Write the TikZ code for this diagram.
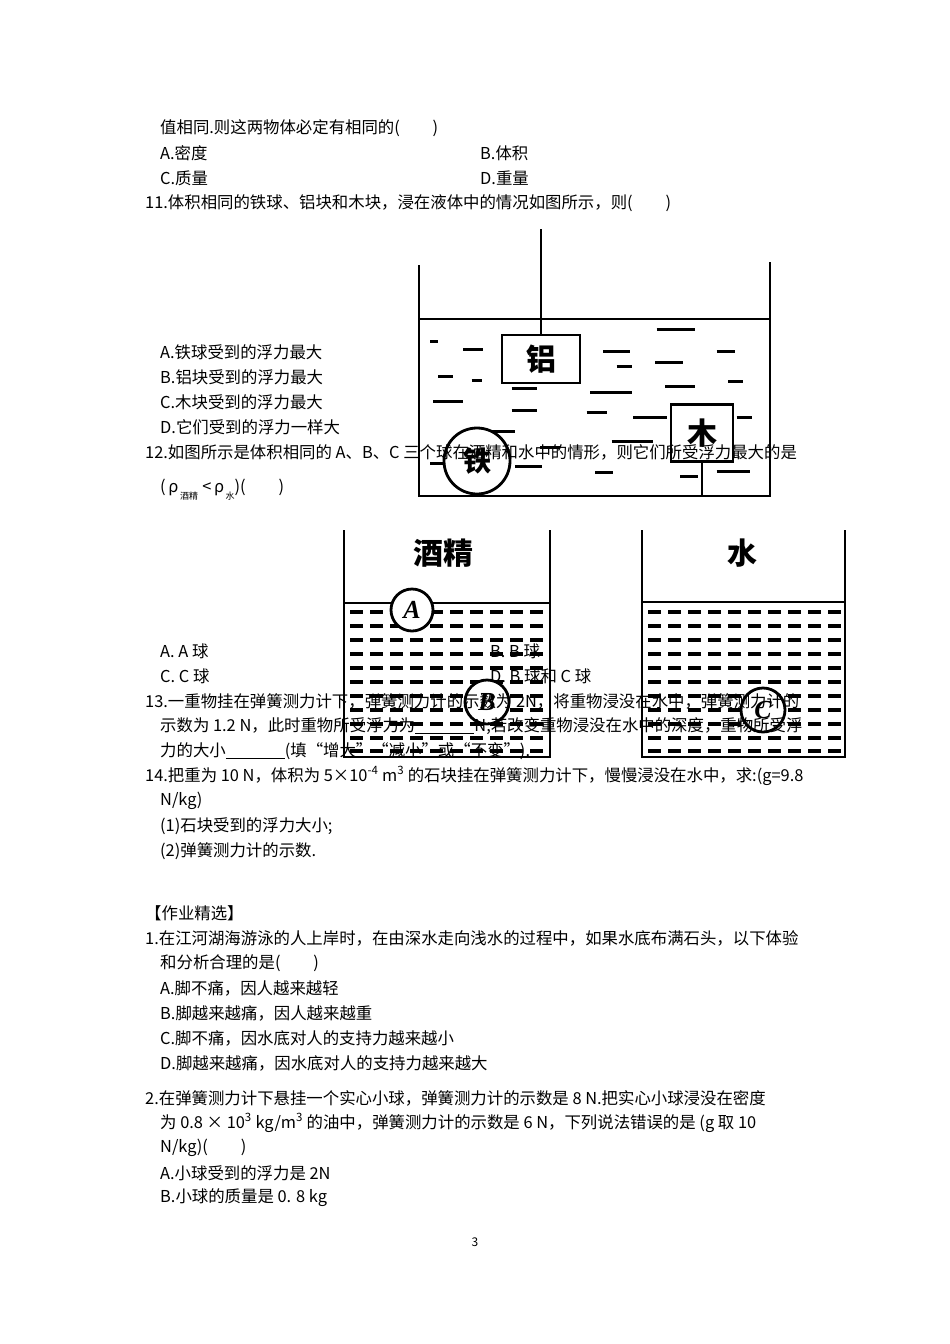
\documentclass[tikz,border=0pt]{standalone}
\usepackage{fontspec}
\setmainfont{Noto Sans CJK SC}
\newfontfamily\ser{Liberation Serif}
\begin{document}
\begin{tikzpicture}[x=1pt,y=-1pt,
  t/.style={anchor=west,inner sep=0pt,font=\fontsize{16.4}{17}\selectfont},
  wall/.style={line width=2.6pt},
  dsh/.style={line width=3pt},
  ball/.style={circle,draw,line width=2.8pt,fill=white,inner sep=0pt,minimum size=#1},
  lett/.style={font=\ser\bfseries\itshape\fontsize{26}{26}\selectfont},
  blk/.style={draw,line width=2.6pt,fill=white,inner sep=0pt,font=\bfseries\fontsize{30}{30}\selectfont}]
\useasboundingbox[fill=white] (0,0) rectangle (950,1344);
% ---- figure 11 ----
\draw[wall] (419,265) -- (419,496) -- (770,496) -- (770,262);
\draw[wall] (419,319) -- (770,319);
\foreach \a/\b/\c in {90/115/365,190/250/388,115/160/470,215/245/480,100/190/545,335/410/505,335/410/570,570/695/518,560/620/578,610/690/395,650/695/440,770/885/328,765/850/428,795/885/500,950/1005/393,985/1030/485,700/800/592,1010/1055/592,240/345/633,635/760/665,420/480/683,345/425/740,585/640/757,840/895/770,950/1050/755,90/135/730}
  \draw[dsh] ({400+\a/3},{220+\c/3}) -- ({400+\b/3},{220+\c/3});
\node[blk,minimum width=78pt,minimum height=48pt] (al) at (541,359) {铝};
\draw[wall] (541,229) -- (al.north);
\node[blk,minimum width=62pt,minimum height=57pt] (wd) at (702,433) {木};
\draw[wall] (wd.south) -- (702,496);
\node[ball=66pt,font=\bfseries\fontsize{28}{28}\selectfont] (fe) at (477,461) {铁};
% ---- figure 12 ----
\draw[wall] (344,530) -- (344,757) -- (550,757) -- (550,530);
\draw[wall] (344,603) -- (550,603);
\foreach \y in {612,626,640,654,668,682,696,710,724,738,751}
  \draw[dsh,line width=3.3pt,dash pattern=on 13pt off 7pt] (350,\y) -- (546,\y);
\node[font=\bfseries\fontsize{30}{30}\selectfont] (jj) at (443,553) {酒精};
\node[ball=42pt,lett] (A) at (412,610) {A};
\node[ball=44pt,lett] (B) at (487,702) {B};
\draw[wall] (642,530) -- (642,757) -- (845,757) -- (845,530);
\draw[wall] (642,602) -- (845,602);
\foreach \y in {612,626,640,654,668,682,696,710,724,738,751}
  \draw[dsh,line width=3.3pt,dash pattern=on 13pt off 7pt] (648,\y) -- (842,\y);
\node[font=\bfseries\fontsize{30}{30}\selectfont] (sh) at (742,553) {水};
\node[ball=44pt,lett] (C) at (763,710) {C};
% ---- text ----
\node[t] at (160,128) {值相同.则这两物体必定有相同的(\hspace{2em})};
\node[t] at (160,153) {A.密度};\node[t] at (480,153) {B.体积};
\node[t] at (160,178) {C.质量};\node[t] at (480,178) {D.重量};
\node[t] at (145,203) {11.体积相同的铁球、铝块和木块，浸在液体中的情况如图所示，则(\hspace{2em})};
\node[t] at (160,352) {A.铁球受到的浮力最大};
\node[t] at (160,377) {B.铝块受到的浮力最大};
\node[t] at (160,402) {C.木块受到的浮力最大};
\node[t] at (160,427) {D.它们受到的浮力一样大};
\node[t] at (145,452) {12.如图所示是体积相同的 A、B、C 三个球在酒精和水中的情形，则它们所受浮力最大的是};
\node[t] at (160,490) {(\,ρ\raisebox{-7pt}{\fontsize{9}{9}\selectfont\,酒精\,}\,<\,ρ\raisebox{-7pt}{\fontsize{9}{9}\selectfont\,水})(\hspace{2em})};
\node[t] at (160,651) {A. A 球};\node[t] at (490,651) {B. B 球};
\node[t] at (160,676) {C. C 球};\node[t] at (490,676) {D. B 球和 C 球};
\node[t] at (145,701) {13.一重物挂在弹簧测力计下，弹簧测力计的示数为 2N，将重物浸没在水中，弹簧测力计的};
\node[t] at (160,726) {示数为 1.2 N，此时重物所受浮力为\underline{\hspace{3.6em}}N;若改变重物浸没在水中的深度，重物所受浮};
\node[t] at (160,751) {力的大小\underline{\hspace{3.6em}}(填“增大”“减小”或“不变”).};
\node[t] at (145,776) {14.把重为 10 N，体积为 5×10\textsuperscript{-4} m\textsuperscript{3} 的石块挂在弹簧测力计下，慢慢浸没在水中，求:(g=9.8};
\node[t] at (160,801) {N/kg)};
\node[t] at (160,826) {(1)石块受到的浮力大小;};
\node[t] at (160,851) {(2)弹簧测力计的示数.};
\node[t] at (145,913) {【作业精选】};
\node[t] at (145,938) {1.在江河湖海游泳的人上岸时，在由深水走向浅水的过程中，如果水底布满石头，以下体验};
\node[t] at (160,963) {和分析合理的是(\hspace{2em})};
\node[t] at (160,988) {A.脚不痛，因人越来越轻};
\node[t] at (160,1013) {B.脚越来越痛，因人越来越重};
\node[t] at (160,1038) {C.脚不痛，因水底对人的支持力越来越小};
\node[t] at (160,1063) {D.脚越来越痛，因水底对人的支持力越来越大};
\node[t] at (145,1098) {2.在弹簧测力计下悬挂一个实心小球，弹簧测力计的示数是 8 N.把实心小球浸没在密度};
\node[t] at (160,1123) {为 0.8 × 10\textsuperscript{3} kg/m\textsuperscript{3} 的油中，弹簧测力计的示数是 6 N，下列说法错误的是 (g 取 10};
\node[t] at (160,1148) {N/kg)(\hspace{2em})};
\node[t] at (160,1173) {A.小球受到的浮力是 2N};
\node[t] at (160,1198) {B.小球的质量是 0. 8 kg};
\node[t,anchor=center,font=\fontsize{12}{12}\selectfont] at (475,1242) {3};
\end{tikzpicture}
\end{document}
